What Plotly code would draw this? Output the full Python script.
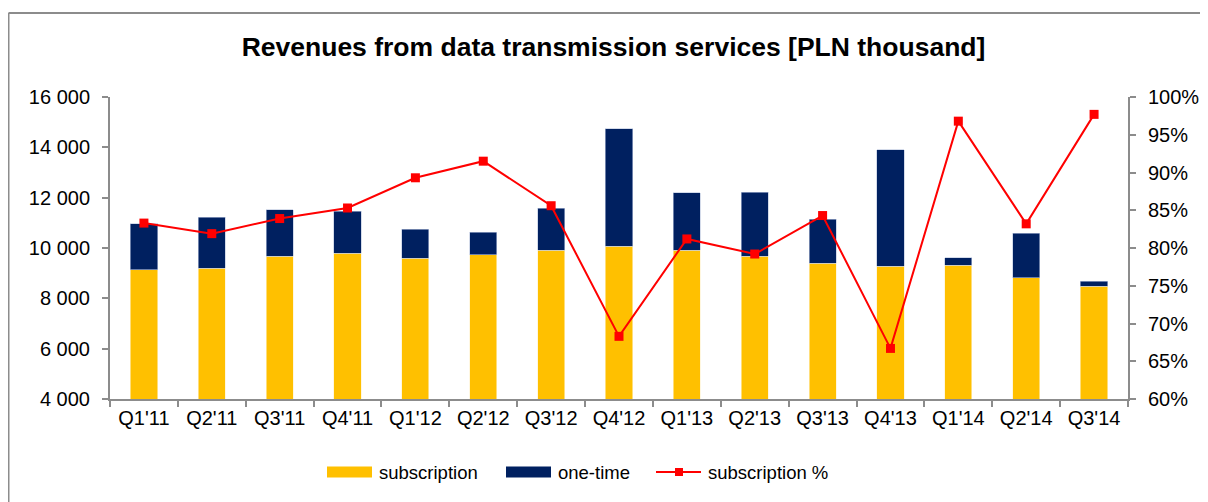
import plotly.graph_objects as go

quarters = ["Q1'11", "Q2'11", "Q3'11", "Q4'11", "Q1'12", "Q2'12", "Q3'12", "Q4'12",
            "Q1'13", "Q2'13", "Q3'13", "Q4'13", "Q1'14", "Q2'14", "Q3'14"]
subscription = [9137, 9193, 9669, 9788, 9589, 9734, 9920, 10079, 9906, 9669, 9390, 9271, 9311, 8821, 8490]
one_time = [1828, 2026, 1853, 1681, 1152, 901, 1668, 4661, 2292, 2542, 1748, 4635, 304, 1774, 185]
subscription_pct = [83.3, 81.9, 83.9, 85.3, 89.3, 91.5, 85.6, 68.3, 81.2, 79.2, 84.3, 66.7, 96.8, 83.2, 97.7]

left_ticks = [4000, 6000, 8000, 10000, 12000, 14000, 16000]
left_labels = ["4 000", "6 000", "8 000", "10 000", "12 000", "14 000", "16 000"]
right_ticks = [60, 65, 70, 75, 80, 85, 90, 95, 100]
right_labels = ["60%", "65%", "70%", "75%", "80%", "85%", "90%", "95%", "100%"]

FONT = "Liberation Sans, Arial, sans-serif"
AXIS = "#8c8c8c"
YELLOW = "#FFC000"
NAVY = "#002060"
RED = "#FF0000"

OFF = 8  # page body margin offset in the browser
W, H = 1208 - OFF, 502 - OFF
# plot area in screen pixels of the reference
L, R, T, B = 110, 1128, 97, 399
def px(x):
    return (x - L) / (R - L)
def py(y):
    return (B - y) / (B - T)

fig = go.Figure()
fig.add_trace(go.Bar(x=quarters, y=subscription, name="subscription",
                     marker=dict(color=YELLOW, line=dict(color="#fff2cc", width=0.6)),
                     width=0.4))
fig.add_trace(go.Bar(x=quarters, y=one_time, name="one-time",
                     marker=dict(color=NAVY, line=dict(color="#b7c3dc", width=0.6)),
                     width=0.4))
fig.add_trace(go.Scatter(x=quarters, y=subscription_pct, name="subscription %", yaxis="y2",
                         mode="lines+markers",
                         line=dict(color=RED, width=2),
                         marker=dict(symbol="square", size=9, color=RED)))

fig.update_layout(
    width=W, height=H,
    barmode="stack",
    paper_bgcolor="white", plot_bgcolor="white",
    margin=dict(l=L - OFF, r=W - (R - OFF), t=T - OFF, b=H - (B - OFF), autoexpand=False),
    font=dict(family=FONT, size=20, color="#000000"),
    title=dict(text="<b>Revenues from data transmission services [PLN thousand]</b>",
               x=(613.5 - OFF) / W, xanchor="center", y=1 - (47 - OFF) / H, yanchor="middle",
               font=dict(family=FONT, size=26.5, color="#000000")),
    xaxis=dict(type="category", range=[-0.5, len(quarters) - 0.5],
               showline=True, linecolor=AXIS, linewidth=2,
               ticks="outside", tickson="boundaries", tickcolor=AXIS, ticklen=6, tickwidth=2,
               showgrid=False, tickfont=dict(size=20), automargin=False),
    yaxis=dict(range=[4000, 16000], tickvals=left_ticks, ticktext=left_labels,
               showline=True, linecolor=AXIS, linewidth=2, ticks="outside",
               tickcolor=AXIS, ticklen=6, tickwidth=2, showgrid=False, zeroline=False,
               ticklabelstandoff=8, tickfont=dict(size=20), automargin=False),
    yaxis2=dict(range=[60, 100], tickvals=right_ticks, ticktext=right_labels,
                overlaying="y", side="right", showline=True, linecolor=AXIS, linewidth=2,
                ticks="outside", tickcolor=AXIS, ticklen=6, tickwidth=2, showgrid=False,
                zeroline=False, ticklabelstandoff=8, tickfont=dict(size=20), automargin=False),
    showlegend=False,
    bargap=0.6,
)

# outer chart border: left and top edges (right/bottom run off the image)
fig.add_shape(type="line", xref="paper", yref="paper",
              x0=px(8.5), x1=px(8.5), y0=py(520), y1=py(13),
              line=dict(color=AXIS, width=2), layer="below")
fig.add_shape(type="line", xref="paper", yref="paper",
              x0=px(8.5), x1=px(1240), y0=py(13), y1=py(13),
              line=dict(color=AXIS, width=2), layer="below")

# custom legend (wide swatches like the reference)
ly = 472
fig.add_shape(type="rect", xref="paper", yref="paper", x0=px(327), x1=px(372),
              y0=py(477.5), y1=py(466.5), fillcolor=YELLOW, line=dict(width=0))
fig.add_shape(type="rect", xref="paper", yref="paper", x0=px(506), x1=px(551),
              y0=py(477.5), y1=py(466.5), fillcolor=NAVY, line=dict(width=0))
fig.add_shape(type="line", xref="paper", yref="paper", x0=px(656), x1=px(701),
              y0=py(ly), y1=py(ly), line=dict(color=RED, width=2))
fig.add_shape(type="rect", xref="paper", yref="paper", x0=px(675), x1=px(683),
              y0=py(ly + 4), y1=py(ly - 4), fillcolor=RED, line=dict(width=0))
for xpos, txt in [(377, "subscription"), (556, "one-time"), (706, "subscription %")]:
    fig.add_annotation(xref="paper", yref="paper", x=px(xpos), y=py(ly), text=txt,
                       showarrow=False, xanchor="left", yanchor="middle",
                       font=dict(family=FONT, size=18.5, color="#000000"))

fig.write_html("out.html")
